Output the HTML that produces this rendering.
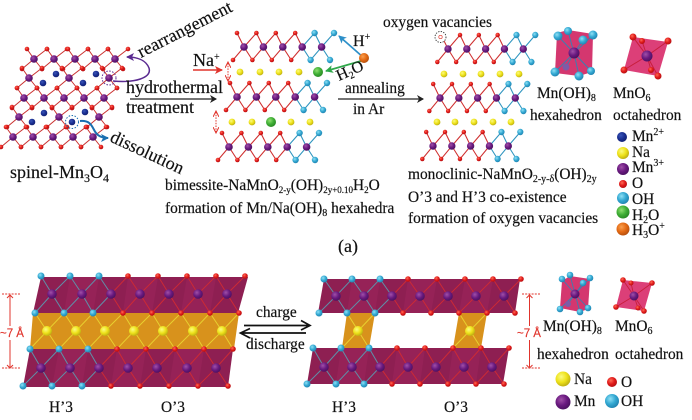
<!DOCTYPE html>
<html><head><meta charset="utf-8"><style>
html,body{margin:0;padding:0;background:#fff}
svg{display:block;filter:blur(.3px)}
text{font-family:"Liberation Serif",serif;fill:#111;font-size:15.4px;stroke:#111;stroke-width:.18}
.l{font-size:18px}
.sub{font-size:10px}
.sm{font-size:9px}
.rd{fill:#e0342c;stroke:#e0342c;font-family:"Liberation Sans",sans-serif;font-size:11.5px}
</style></head><body>
<svg width="692" height="420" viewBox="0 0 692 420" xmlns="http://www.w3.org/2000/svg">
<defs>
<radialGradient id="gR" cx=".38" cy=".35" r=".75"><stop offset="0" stop-color="#ff6a55"/><stop offset=".5" stop-color="#e01a1a"/><stop offset="1" stop-color="#a80f12"/></radialGradient>
<radialGradient id="gB" cx=".38" cy=".35" r=".75"><stop offset="0" stop-color="#8fe0f5"/><stop offset=".5" stop-color="#33a8d2"/><stop offset="1" stop-color="#1c7aa8"/></radialGradient>
<radialGradient id="gP" cx=".38" cy=".35" r=".75"><stop offset="0" stop-color="#a050a8"/><stop offset=".5" stop-color="#6a1a80"/><stop offset="1" stop-color="#430f58"/></radialGradient>
<radialGradient id="gY" cx=".38" cy=".35" r=".75"><stop offset="0" stop-color="#fbfb80"/><stop offset=".5" stop-color="#eee21a"/><stop offset="1" stop-color="#b0a010"/></radialGradient>
<radialGradient id="gG" cx=".38" cy=".35" r=".75"><stop offset="0" stop-color="#8fe070"/><stop offset=".5" stop-color="#3fae35"/><stop offset="1" stop-color="#23801f"/></radialGradient>
<radialGradient id="gO" cx=".38" cy=".35" r=".75"><stop offset="0" stop-color="#f9a050"/><stop offset=".5" stop-color="#e46a14"/><stop offset="1" stop-color="#a8480c"/></radialGradient>
<radialGradient id="gN" cx=".38" cy=".35" r=".75"><stop offset="0" stop-color="#3a55b8"/><stop offset=".5" stop-color="#1a2f92"/><stop offset="1" stop-color="#101c68"/></radialGradient>

<g id="o"><circle r="2.300" fill="url(#gR)"/></g>
<g id="h"><circle r="3.200" fill="url(#gB)"/></g>
<g id="m"><circle r="3.800" fill="url(#gP)"/></g>
<g id="na"><circle r="3.400" fill="url(#gY)"/></g>

<g id="cell">
<path d="M0 0L-7-10M0 0L13-10M0 0L-12 10M0 0L8 10" stroke="#c9302f" stroke-width="1" fill="none"/>
<use href="#o" x="-7" y="-10"/><use href="#o" x="13" y="-10"/><use href="#o" x="-12" y="10"/><use href="#o" x="8" y="10"/>
<use href="#m"/>
</g>

<g id="layer">
<path d="M-7-14L0 0L12.400-14L19.400 0L31.800-14L38.800 0L51.200-14L58.200 0M-11 13L0 0L8.400 13L19.400 0L27.800 13L38.800 0L47.200 13L58.200 0" stroke="#cf3030" stroke-width="1.100" fill="none"/>
<path d="M58.200 0L70.600-14L77.600 0L90-14M58.200 0L66.600 13L77.600 0L86 13" stroke="#2f95bf" stroke-width="1.100" fill="none"/>
<use href="#o" x="-7" y="-14"/><use href="#o" x="12.400" y="-14"/><use href="#o" x="31.800" y="-14"/><use href="#o" x="51.200" y="-14"/>
<use href="#h" x="70.600" y="-14"/><use href="#h" x="90" y="-14"/>
<use href="#o" x="-11" y="13"/><use href="#o" x="8.400" y="13"/><use href="#o" x="27.800" y="13"/><use href="#o" x="47.200" y="13"/>
<use href="#h" x="66.600" y="13"/><use href="#h" x="86" y="13"/>
<use href="#m"/><use href="#m" x="19.400"/><use href="#m" x="38.800"/><use href="#m" x="58.200"/><use href="#m" x="77.600"/>
</g>

<marker id="aK" markerWidth="8" markerHeight="8" refX="6" refY="4" orient="auto" markerUnits="userSpaceOnUse"><path d="M0 0L7 4L0 8L2 4Z" fill="#222"/></marker>
<marker id="aR" markerWidth="9" markerHeight="8" refX="7" refY="4" orient="auto" markerUnits="userSpaceOnUse"><path d="M0 0L8 4L0 8L2 4Z" fill="#e0342c"/></marker>
<marker id="aU" markerWidth="9" markerHeight="8" refX="7" refY="4" orient="auto" markerUnits="userSpaceOnUse"><path d="M0 0L8 4L0 8L2 4Z" fill="#2c8fc8"/></marker>
<marker id="aD" markerWidth="9" markerHeight="8" refX="7" refY="4" orient="auto" markerUnits="userSpaceOnUse"><path d="M0 0L8 4L0 8L2 4Z" fill="#1a6fb0"/></marker>
<marker id="aG" markerWidth="9" markerHeight="8" refX="7" refY="4" orient="auto" markerUnits="userSpaceOnUse"><path d="M0 0L8 4L0 8L2 4Z" fill="#2fa84a"/></marker>
<marker id="aV" markerWidth="9" markerHeight="8" refX="7" refY="4" orient="auto" markerUnits="userSpaceOnUse"><path d="M0 0L8 4L0 8L2 4Z" fill="#5a2a90"/></marker>
<marker id="aT" markerWidth="7" markerHeight="6" refX="5" refY="3" orient="auto-start-reverse" markerUnits="userSpaceOnUse"><path d="M0 0L6 3L0 6" fill="none" stroke="#e0342c" stroke-width="1"/></marker>
</defs>

<!-- spinel -->
<g>
<use href="#cell" x="34" y="59"/><use href="#cell" x="54" y="59"/><use href="#cell" x="75" y="59"/><use href="#cell" x="95" y="59"/><use href="#cell" x="115" y="59"/>
<use href="#cell" x="29" y="78"/><use href="#cell" x="69" y="78"/><use href="#cell" x="109" y="78"/>
<use href="#cell" x="24" y="98"/><use href="#cell" x="44" y="98"/><use href="#cell" x="64" y="98"/><use href="#cell" x="84" y="98"/><use href="#cell" x="104" y="98"/>
<use href="#cell" x="19" y="117"/><use href="#cell" x="59" y="117"/><use href="#cell" x="99" y="117"/>
<use href="#cell" x="13" y="137"/><use href="#cell" x="33" y="137"/><use href="#cell" x="53" y="137"/><use href="#cell" x="73" y="137"/><use href="#cell" x="93" y="137"/>
<g fill="url(#gN)"><circle cx="56" cy="74" r="3.300"/><circle cx="43" cy="83" r="3.300"/><circle cx="96" cy="74" r="3.300"/><circle cx="83" cy="83" r="3.300"/><circle cx="44" cy="113" r="3.300"/><circle cx="32" cy="122" r="3.300"/><circle cx="85" cy="112" r="3.300"/><circle cx="72" cy="122" r="3.300"/></g>
<circle cx="109" cy="78" r="7" fill="none" stroke="#5a2a90" stroke-width="1" stroke-dasharray="1.500 1.500"/>
<circle cx="72" cy="122" r="6.500" fill="none" stroke="#1a6fb0" stroke-width="1" stroke-dasharray="1.500 1.500"/>
<path d="M113 81C135 83 152 78 149 68C146 60 137 57 127 57" fill="none" stroke="#5a2a90" stroke-width="1.500" marker-end="url(#aV)"/>
<path d="M80 121C92 120 92 128 96 133C99 137 103 138 108 138" fill="none" stroke="#1a6fb0" stroke-width="2" marker-end="url(#aD)"/>
</g>
<text class="l" transform="translate(141 58) rotate(-27)">rearrangement</text>
<text class="l" transform="translate(109 141) rotate(25)">dissolution</text>
<text class="l" x="126" y="93">hydrothermal</text>
<text class="l" x="126" y="113">treatment</text>
<line x1="130" y1="99" x2="216" y2="99" stroke="#222" stroke-width="1.300" marker-end="url(#aK)"/>
<text class="l" x="10" y="178">spinel-Mn<tspan dy="4" style="font-size:12px">3</tspan><tspan dy="-4">O</tspan><tspan dy="4" style="font-size:12px">4</tspan></text>

<!-- bimessite layers -->
<use href="#layer" x="244" y="47"/>
<use href="#layer" x="237" y="97"/>
<use href="#layer" x="229" y="147"/>
<use href="#na" x="240" y="72"/><use href="#na" x="260" y="72"/><use href="#na" x="279" y="72"/><use href="#na" x="299" y="72"/>
<circle cx="318" cy="72" r="5" fill="url(#gG)"/>
<use href="#na" x="232" y="122"/><use href="#na" x="252" y="122"/><use href="#na" x="291" y="122"/><use href="#na" x="310" y="122"/>
<circle cx="271" cy="122" r="5" fill="url(#gG)"/>

<text class="l" x="193" y="66">Na<tspan class="sub" dy="-6">+</tspan></text>
<line x1="193" y1="70" x2="222" y2="70" stroke="#e0342c" stroke-width="1.600" marker-end="url(#aR)"/>
<line x1="228" y1="63" x2="228" y2="80" stroke="#e0342c" stroke-width="1" stroke-dasharray="1.500 1.200" marker-start="url(#aT)" marker-end="url(#aT)"/>
<line x1="216" y1="112" x2="216" y2="132" stroke="#e0342c" stroke-width="1" stroke-dasharray="1.500 1.200" marker-start="url(#aT)" marker-end="url(#aT)"/>
<line x1="364" y1="58" x2="339" y2="36" stroke="#2c8fc8" stroke-width="1.700" marker-end="url(#aU)"/>
<line x1="361" y1="61" x2="326" y2="71" stroke="#2fa84a" stroke-width="1.700" marker-end="url(#aG)"/>
<circle cx="364" cy="58" r="5" fill="url(#gO)"/>
<text x="353" y="46" style="font-size:16px">H<tspan class="sub" dy="-6">+</tspan></text>
<text transform="translate(339 81) rotate(-24)" style="font-size:16px">H<tspan class="sub" dy="3">2</tspan><tspan dy="-3">O</tspan></text>
<text x="345" y="93">annealing</text>
<text x="353" y="114">in Ar</text>
<line x1="338" y1="99" x2="423" y2="99" stroke="#222" stroke-width="1.300" marker-end="url(#aK)"/>
<text x="165" y="190">bimessite-NaMnO<tspan class="sm" dy="3">2-y</tspan><tspan dy="-3">(OH)</tspan><tspan class="sm" dy="3">2y+0.10</tspan><tspan dy="-3">H</tspan><tspan class="sm" dy="3">2</tspan><tspan dy="-3">O</tspan></text>
<text x="165" y="213">formation of Mn/Na(OH)<tspan class="sub" dy="3">8</tspan><tspan dy="-3"> hexahedra</tspan></text>
<text x="338" y="252" style="font-size:18px">(a)</text>

<!-- monoclinic layers -->
<text x="383" y="27">oxygen vacancies</text>
<g transform="translate(448 49) scale(.97 1)"><use href="#layer"/></g>
<circle cx="441" cy="35" r="2.800" fill="#fff"/>
<circle cx="440.500" cy="37" r="5.500" fill="#fff" stroke="#333" stroke-width=".9" stroke-dasharray="1.300 1.300"/>
<circle cx="440.500" cy="37" r="1.700" fill="none" stroke="#e0342c" stroke-width=".7"/>
<g transform="translate(440 98) scale(.97 1)"><use href="#layer"/></g>
<g transform="translate(433 146) scale(.97 1)"><use href="#layer"/></g>
<use href="#na" x="444" y="74"/><use href="#na" x="463" y="74"/><use href="#na" x="481" y="74"/><use href="#na" x="500" y="74"/><use href="#na" x="519" y="74"/>
<use href="#na" x="437" y="122"/><use href="#na" x="455" y="122"/><use href="#na" x="474" y="122"/><use href="#na" x="493" y="122"/><use href="#na" x="511" y="122"/>
<text x="408" y="179">monoclinic-NaMnO<tspan class="sub" dy="3">2-y-δ</tspan><tspan dy="-3">(OH)</tspan><tspan class="sub" dy="3">2y</tspan></text>
<text x="408" y="202">O’3 and H’3 co-existence</text>
<text x="408" y="223">formation of oxygen vacancies</text>

<!-- polyhedra top -->
<polygon points="557,33 568,30 593,34 592,72 579,76 555,73" fill="#d4376f"/>
<path d="M574 53L558 36M574 53L568 31M574 53L593 35M574 53L583 40M574 53L555 72M574 53L579 76M574 53L591 71M574 53L566 67" stroke="#3c7fb0" stroke-width="1"/>
<circle cx="566" cy="67" r="3.500" fill="#7c5ca8"/>
<circle cx="574" cy="53" r="5.500" fill="url(#gP)"/>
<g fill="url(#gB)"><circle cx="558" cy="36" r="4.500"/><circle cx="568" cy="31" r="4"/><circle cx="593" cy="35" r="4.500"/><circle cx="583" cy="40" r="4.500"/><circle cx="555" cy="72" r="4.500"/><circle cx="579" cy="76" r="4.500"/><circle cx="591" cy="71" r="4"/></g>
<polygon points="633,37 668,42 658,76 624,70" fill="#dc3f78"/>
<path d="M647 56L633 37M647 56L642 41M647 56L668 41M647 56L624 70M647 56L651 70M647 56L658 76" stroke="#c81e3c" stroke-width="1"/>
<circle cx="647" cy="56" r="5.500" fill="url(#gP)"/>
<g fill="url(#gR)"><circle cx="633" cy="37" r="3.500"/><circle cx="642" cy="41" r="3"/><circle cx="668" cy="41" r="3.500"/><circle cx="624" cy="70" r="3.500"/><circle cx="651" cy="70" r="3"/><circle cx="658" cy="76" r="3.500"/></g>
<text x="537" y="98">Mn(OH)<tspan class="sub" dy="3">8</tspan></text>
<text x="530" y="120">hexahedron</text>
<text x="613" y="98">MnO<tspan class="sub" dy="3">6</tspan></text>
<text x="613" y="120">octahedron</text>

<!-- legend top -->
<circle cx="622" cy="137" r="5" fill="url(#gN)"/>
<circle cx="623" cy="153" r="6" fill="url(#gY)"/>
<circle cx="623" cy="169" r="6" fill="url(#gP)"/>
<circle cx="623" cy="184" r="4" fill="url(#gR)"/>
<circle cx="623" cy="198" r="6" fill="url(#gB)"/>
<circle cx="623" cy="212" r="6.500" fill="url(#gG)"/>
<circle cx="623" cy="229" r="6.500" fill="url(#gO)"/>
<text x="632" y="141">Mn<tspan class="sub" dy="-6">2+</tspan></text>
<text x="632" y="157">Na</text>
<text x="632" y="172">Mn<tspan class="sub" dy="-6">3+</tspan></text>
<text x="632" y="188">O</text>
<text x="632" y="204">OH</text>
<text x="632" y="220">H<tspan class="sub" dy="3">2</tspan><tspan dy="-3">O</tspan></text>
<text x="632" y="235">H<tspan class="sub" dy="3">3</tspan><tspan dy="-3">O</tspan><tspan class="sub" dy="-6">+</tspan></text>

<!-- bottom left structure -->
<polygon points="41,277 248,277 238,313 33,313" fill="#8e1f52"/>
<polygon points="33,313 239,313 234,349 30,349" fill="#d8921c"/>
<polygon points="30,349 233,349 228,387 23,387" fill="#8e1f52"/>
<g fill="#a52a62" opacity=".35"><polygon points="70,277 99,277 93,313 64,313"/><polygon points="128,277 158,277 152,313 123,313"/><polygon points="187,277 216,277 210,313 181,313"/><polygon points="59,349 88,349 82,387 52,387"/><polygon points="117,349 146,349 140,387 111,387"/><polygon points="175,349 204,349 198,387 169,387"/></g>
<g fill="none" stroke-width="1">
<path d="M41 276L52 294L70 276L82 294L99 276L111 294M35 313L52 294L64 313L82 294L93 313L111 294M30 349L41 368L59 349L70 368L88 349L99 368M23 386L41 368L52 386L70 368L82 386L99 368" stroke="#5f8fa8"/>
<path d="M111 294L128 276L140 294L158 276L169 294L187 276L198 294L216 276L227 294L245 276M111 294L123 313L140 294L152 313L169 294L181 313L198 294L210 313L227 294L239 313M99 368L117 349L128 368L146 349L157 368L175 349L187 368L204 349L216 368L233 349M99 368L111 386L128 368L140 386L157 368L169 386L187 368L198 386L216 368L228 386" stroke="#cc2a35"/>
<path d="M35 313L47 331L64 313L76 331L93 313L105 331L123 313L134 331L152 313L163 331L181 313L193 331L210 313L222 331L239 313M30 349L47 331L59 349L76 331L88 349L105 331L117 349L134 331L146 349L163 331L175 349L193 331L204 349L222 331L233 349" stroke="#e8d030"/>
</g>
<g fill="url(#gB)"><circle cx="41" cy="276" r="3.500"/><circle cx="70" cy="276" r="3.500"/><circle cx="99" cy="276" r="3.500"/><circle cx="35" cy="313" r="3.500"/><circle cx="64" cy="313" r="3.500"/><circle cx="93" cy="313" r="3.500"/><circle cx="30" cy="349" r="3.500"/><circle cx="59" cy="349" r="3.500"/><circle cx="88" cy="349" r="3.500"/><circle cx="23" cy="386" r="3.500"/><circle cx="52" cy="386" r="3.500"/><circle cx="82" cy="386" r="3.500"/></g>
<g fill="url(#gR)"><circle cx="128" cy="276" r="2.800"/><circle cx="158" cy="276" r="2.800"/><circle cx="187" cy="276" r="2.800"/><circle cx="216" cy="276" r="2.800"/><circle cx="245" cy="276" r="2.800"/><circle cx="123" cy="313" r="2.800"/><circle cx="152" cy="313" r="2.800"/><circle cx="181" cy="313" r="2.800"/><circle cx="210" cy="313" r="2.800"/><circle cx="239" cy="313" r="2.800"/><circle cx="117" cy="349" r="2.800"/><circle cx="146" cy="349" r="2.800"/><circle cx="175" cy="349" r="2.800"/><circle cx="204" cy="349" r="2.800"/><circle cx="233" cy="349" r="2.800"/><circle cx="111" cy="386" r="2.800"/><circle cx="140" cy="386" r="2.800"/><circle cx="169" cy="386" r="2.800"/><circle cx="198" cy="386" r="2.800"/><circle cx="228" cy="386" r="2.800"/></g>
<g fill="url(#gP)"><circle cx="52" cy="294" r="4.800"/><circle cx="82" cy="294" r="4.800"/><circle cx="111" cy="294" r="4.800"/><circle cx="140" cy="294" r="4.800"/><circle cx="169" cy="294" r="4.800"/><circle cx="198" cy="294" r="4.800"/><circle cx="227" cy="294" r="4.800"/><circle cx="41" cy="368" r="4.800"/><circle cx="70" cy="368" r="4.800"/><circle cx="99" cy="368" r="4.800"/><circle cx="128" cy="368" r="4.800"/><circle cx="157" cy="368" r="4.800"/><circle cx="187" cy="368" r="4.800"/><circle cx="216" cy="368" r="4.800"/></g>
<g fill="url(#gY)"><circle cx="47" cy="331" r="5"/><circle cx="76" cy="331" r="5"/><circle cx="105" cy="331" r="5"/><circle cx="134" cy="331" r="5"/><circle cx="163" cy="331" r="5"/><circle cx="193" cy="331" r="5"/><circle cx="222" cy="331" r="5"/></g>
<text x="49" y="412">H’3</text>
<text x="161" y="412">O’3</text>

<!-- dimension left -->
<g stroke="#e0342c" stroke-width="1" fill="none">
<path d="M2 294H20M2 368H20" stroke-dasharray="2 1.200"/>
<path d="M10 295V326M10 340V367"/>
<path d="M7 298L10 295L13 298M7 365L10 368L13 365"/>
</g>
<text class="rd" x="0" y="337">~7 Å</text>

<!-- charge / discharge -->
<text x="256" y="317">charge</text>
<text x="246" y="349">discharge</text>
<path d="M244 325.500H308M301 320.500L310 325.500L301 330" stroke="#111" stroke-width="1.700" fill="none"/>
<path d="M306 333H242M250 328.500L240.500 333L250 338" stroke="#111" stroke-width="1.700" fill="none"/>

<!-- bottom right structure -->
<polygon points="324,279 520,279 515,313 318,313" fill="#8e1f52"/>
<polygon points="313,348 509,348 503,384 307,384" fill="#8e1f52"/>
<polygon points="347,313 375,313 369,348 342,348" fill="#d8921c"/>
<polygon points="459,313 487,313 481,348 453,348" fill="#d8921c"/>
<g fill="#a52a62" opacity=".35"><polygon points="352,279 380,279 375,313 347,313"/><polygon points="408,279 437,279 431,313 403,313"/><polygon points="465,279 493,279 487,313 459,313"/><polygon points="341,348 369,348 364,384 336,384"/><polygon points="397,348 425,348 420,384 392,384"/><polygon points="453,348 481,348 476,384 448,384"/></g>
<g fill="none" stroke-width="1">
<path d="M324 279L336 296L352 279L364 296L380 279L392 296M319 313L336 296L347 313L364 296L375 313L392 296M313 348L324 367L341 348L352 367L369 348L380 367M307 384L324 367L336 384L352 367L364 384L380 367" stroke="#5f8fa8"/>
<path d="M392 296L408 279L420 296L437 279L448 296L465 279L476 296L493 279L504 296L521 279M392 296L403 313L420 296L431 313L448 296L459 313L476 296L487 313L504 296L515 313M380 367L397 348L408 367L425 348L436 367L453 348L464 367L481 348L492 367L509 348M380 367L392 384L408 367L420 384L436 367L448 384L464 367L476 384L492 367L504 384" stroke="#cc2a35"/>
<path d="M347 313L369 348M375 313L342 348M459 313L481 348M487 313L453 348" stroke="#e8d030"/>
</g>
<g fill="url(#gB)"><circle cx="324" cy="279" r="3.500"/><circle cx="352" cy="279" r="3.500"/><circle cx="380" cy="279" r="3.500"/><circle cx="319" cy="313" r="3.500"/><circle cx="347" cy="313" r="3.500"/><circle cx="375" cy="313" r="3.500"/><circle cx="313" cy="348" r="3.500"/><circle cx="341" cy="348" r="3.500"/><circle cx="369" cy="348" r="3.500"/><circle cx="307" cy="384" r="3.500"/><circle cx="336" cy="384" r="3.500"/><circle cx="364" cy="384" r="3.500"/></g>
<g fill="url(#gR)"><circle cx="408" cy="279" r="2.800"/><circle cx="437" cy="279" r="2.800"/><circle cx="465" cy="279" r="2.800"/><circle cx="493" cy="279" r="2.800"/><circle cx="521" cy="279" r="2.800"/><circle cx="403" cy="313" r="2.800"/><circle cx="431" cy="313" r="2.800"/><circle cx="459" cy="313" r="2.800"/><circle cx="487" cy="313" r="2.800"/><circle cx="515" cy="313" r="2.800"/><circle cx="397" cy="348" r="2.800"/><circle cx="425" cy="348" r="2.800"/><circle cx="453" cy="348" r="2.800"/><circle cx="481" cy="348" r="2.800"/><circle cx="509" cy="348" r="2.800"/><circle cx="392" cy="384" r="2.800"/><circle cx="420" cy="384" r="2.800"/><circle cx="448" cy="384" r="2.800"/><circle cx="476" cy="384" r="2.800"/><circle cx="504" cy="384" r="2.800"/></g>
<g fill="url(#gP)"><circle cx="336" cy="296" r="4.800"/><circle cx="364" cy="296" r="4.800"/><circle cx="392" cy="296" r="4.800"/><circle cx="420" cy="296" r="4.800"/><circle cx="448" cy="296" r="4.800"/><circle cx="476" cy="296" r="4.800"/><circle cx="504" cy="296" r="4.800"/><circle cx="324" cy="367" r="4.800"/><circle cx="352" cy="367" r="4.800"/><circle cx="380" cy="367" r="4.800"/><circle cx="408" cy="367" r="4.800"/><circle cx="436" cy="367" r="4.800"/><circle cx="464" cy="367" r="4.800"/><circle cx="492" cy="367" r="4.800"/></g>
<circle cx="358" cy="331" r="5" fill="url(#gY)"/>
<circle cx="470" cy="331" r="5" fill="url(#gY)"/>
<text x="332" y="412">H’3</text>
<text x="444" y="412">O’3</text>

<!-- dimension right -->
<g stroke="#e0342c" stroke-width="1" fill="none">
<path d="M522 294H540M522 368H540" stroke-dasharray="2 1.200"/>
<path d="M529.500 295V326M529.500 340V367"/>
<path d="M526.500 298L529.500 295L532.500 298M526.500 365L529.500 368L532.500 365"/>
</g>
<text class="rd" x="517" y="337">~7 Å</text>

<!-- polyhedra bottom -->
<polygon points="562,281 570,276 590,279 588,309 580,312 560,308" fill="#d4376f"/>
<path d="M575 294L562 279M575 294L570 275M575 294L590 278M575 294L583 283M575 294L560 309M575 294L580 312M575 294L588 308M575 294L568 304" stroke="#3c7fb0" stroke-width=".9"/>
<circle cx="568" cy="304" r="3" fill="#7c5ca8"/>
<circle cx="575" cy="294" r="4.500" fill="url(#gP)"/>
<g fill="url(#gB)"><circle cx="562" cy="279" r="3.300"/><circle cx="570" cy="275" r="3.300"/><circle cx="590" cy="278" r="3.300"/><circle cx="583" cy="283" r="3.300"/><circle cx="560" cy="309" r="3.300"/><circle cx="580" cy="312" r="3.300"/><circle cx="588" cy="308" r="3.300"/></g>
<polygon points="623,280 652,283 644,311 616,307" fill="#dc3f78"/>
<path d="M634 296L623 280M634 296L631 283M634 296L652 283M634 296L616 307M634 296L638 308M634 296L644 311" stroke="#c81e3c" stroke-width=".9"/>
<circle cx="634" cy="296" r="4.500" fill="url(#gP)"/>
<g fill="url(#gR)"><circle cx="623" cy="280" r="2.800"/><circle cx="631" cy="283" r="2.500"/><circle cx="652" cy="283" r="2.800"/><circle cx="616" cy="307" r="2.800"/><circle cx="638" cy="308" r="2.500"/><circle cx="644" cy="311" r="2.800"/></g>
<text x="543" y="331">Mn(OH)<tspan class="sub" dy="3">8</tspan></text>
<text x="615" y="331">MnO<tspan class="sub" dy="3">6</tspan></text>
<text x="537" y="359">hexahedron</text>
<text x="615" y="359">octahedron</text>

<circle cx="563" cy="379" r="7.500" fill="url(#gY)"/>
<circle cx="563" cy="402" r="7.500" fill="url(#gP)"/>
<circle cx="612" cy="382" r="5" fill="url(#gR)"/>
<circle cx="612" cy="401" r="7" fill="url(#gB)"/>
<text x="574" y="384">Na</text>
<text x="574" y="406">Mn</text>
<text x="621" y="387">O</text>
<text x="621" y="406">OH</text>
</svg>
</body></html>
